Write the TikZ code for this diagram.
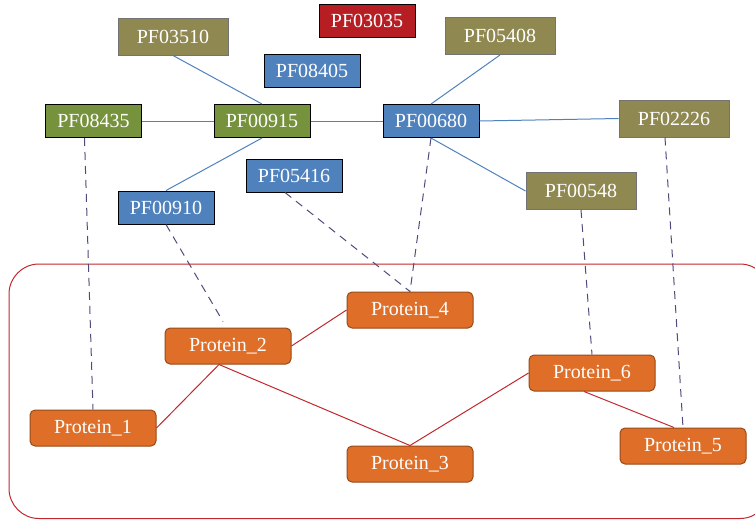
\documentclass[tikz,border=0pt]{standalone}
\usepackage{fontspec}
\setmainfont{Liberation Serif}
\usetikzlibrary{positioning}
\definecolor{pfolive}{RGB}{143,136,80}
\definecolor{pfgreen}{RGB}{118,146,60}
\definecolor{pfblue}{RGB}{79,129,189}
\definecolor{pfred}{RGB}{183,30,35}
\definecolor{protorange}{RGB}{222,110,40}
\definecolor{protedge}{RGB}{150,75,25}
\definecolor{linkred}{RGB}{192,40,45}
\definecolor{dashblue}{RGB}{80,75,125}
\tikzset{
	pf/.style={draw=black, line width=1pt, text=white, minimum width=96pt, minimum height=33pt, inner sep=0pt, font=\fontsize{20}{22}\selectfont},
	pfwide/.style={pf, draw=black!55, fill=pfolive, minimum width=110pt, minimum height=37pt},
	protein/.style={pf, draw=protedge, fill=protorange, rounded corners=5pt, minimum width=126pt, minimum height=36pt},
	pflink/.style={draw=pfblue, line width=1pt},
	ppi/.style={draw=linkred, line width=1pt},
	hit/.style={draw=dashblue, line width=1pt, dash pattern=on 8pt off 6pt},
}

\begin{document}
\begin{tikzpicture}[x=1pt, y=-1pt]
		\useasboundingbox (0,0) rectangle (755,520);
		% domain nodes
		\node[pfwide] (PF03510) at (173,36.5) {PF03510};
		\node[pf, fill=pfred] (PF03035) at (367,20.5) {PF03035};
		\node[pf, fill=pfblue] (PF08405) at (312,70.5) {PF08405};
		\node[pfwide] (PF05408) at (500,36) {PF05408};
		\node[pf, fill=pfgreen] (PF08435) at (93.5,121) {PF08435};
		\node[pf, fill=pfgreen] (PF00915) at (262,121) {PF00915};
		\node[pf, fill=pfblue] (PF00680) at (431,121) {PF00680};
		\node[pfwide] (PF02226) at (674,118.5) {PF02226};
		\node[pf, fill=pfblue] (PF05416) at (294,175.5) {PF05416};
		\node[pf, fill=pfblue] (PF00910) at (166,207.5) {PF00910};
		\node[pfwide] (PF00548) at (581,191) {PF00548};
		% protein nodes
		\draw[ppi, rounded corners=30pt] (9,264) rectangle (770,518.5);
		\node[protein] (P1) at (93,428) {Protein\_1};
		\node[protein] (P2) at (228,346) {Protein\_2};
		\node[protein] (P3) at (410,464) {Protein\_3};
		\node[protein] (P4) at (410,310) {Protein\_4};
		\node[protein] (P5) at (683,446) {Protein\_5};
		\node[protein] (P6) at (592,373) {Protein\_6};
		% domain links
		\draw[pflink] (PF03510.south) -- (PF00915.north);
		\draw[pflink] (PF08435.east) -- (PF00915.west);
		\draw[pflink] (PF00915.east) -- (PF00680.west);
		\draw[pflink] (PF00915.south) -- (PF00910.north);
		\draw[pflink] (PF00680.north) -- (PF05408.south);
		\draw[pflink] (PF00680.east) -- (PF02226.west);
		\draw[pflink] (PF00680.south) -- (PF00548.west);
		% protein links
		\draw[ppi] (P2.east) -- (P4.west);
		\draw[ppi] ([xshift=-9pt]P2.south) -- (P1.east);
		\draw[ppi] ([xshift=-9pt]P2.south) -- (P3.north);
		\draw[ppi] (P3.north) -- (P6.west);
		\draw[ppi] ([xshift=-8pt]P6.south) -- ([xshift=-9pt]P5.north);
		% domain hits
		\foreach \d/\p in {PF08435/P1, PF05416/P4, PF02226/P5} {
			\draw[hit] ([xshift=-9pt]\d.south) -- (\p.north);
		}
		\draw[hit] (PF00910.south) -- ([xshift=-5pt, yshift=6pt]P2.north);
		\draw[hit] (PF00680.south) -- (P4.north);
		\draw[hit] (PF00548.south) -- (P6.north);
	\end{tikzpicture}
\end{document}
